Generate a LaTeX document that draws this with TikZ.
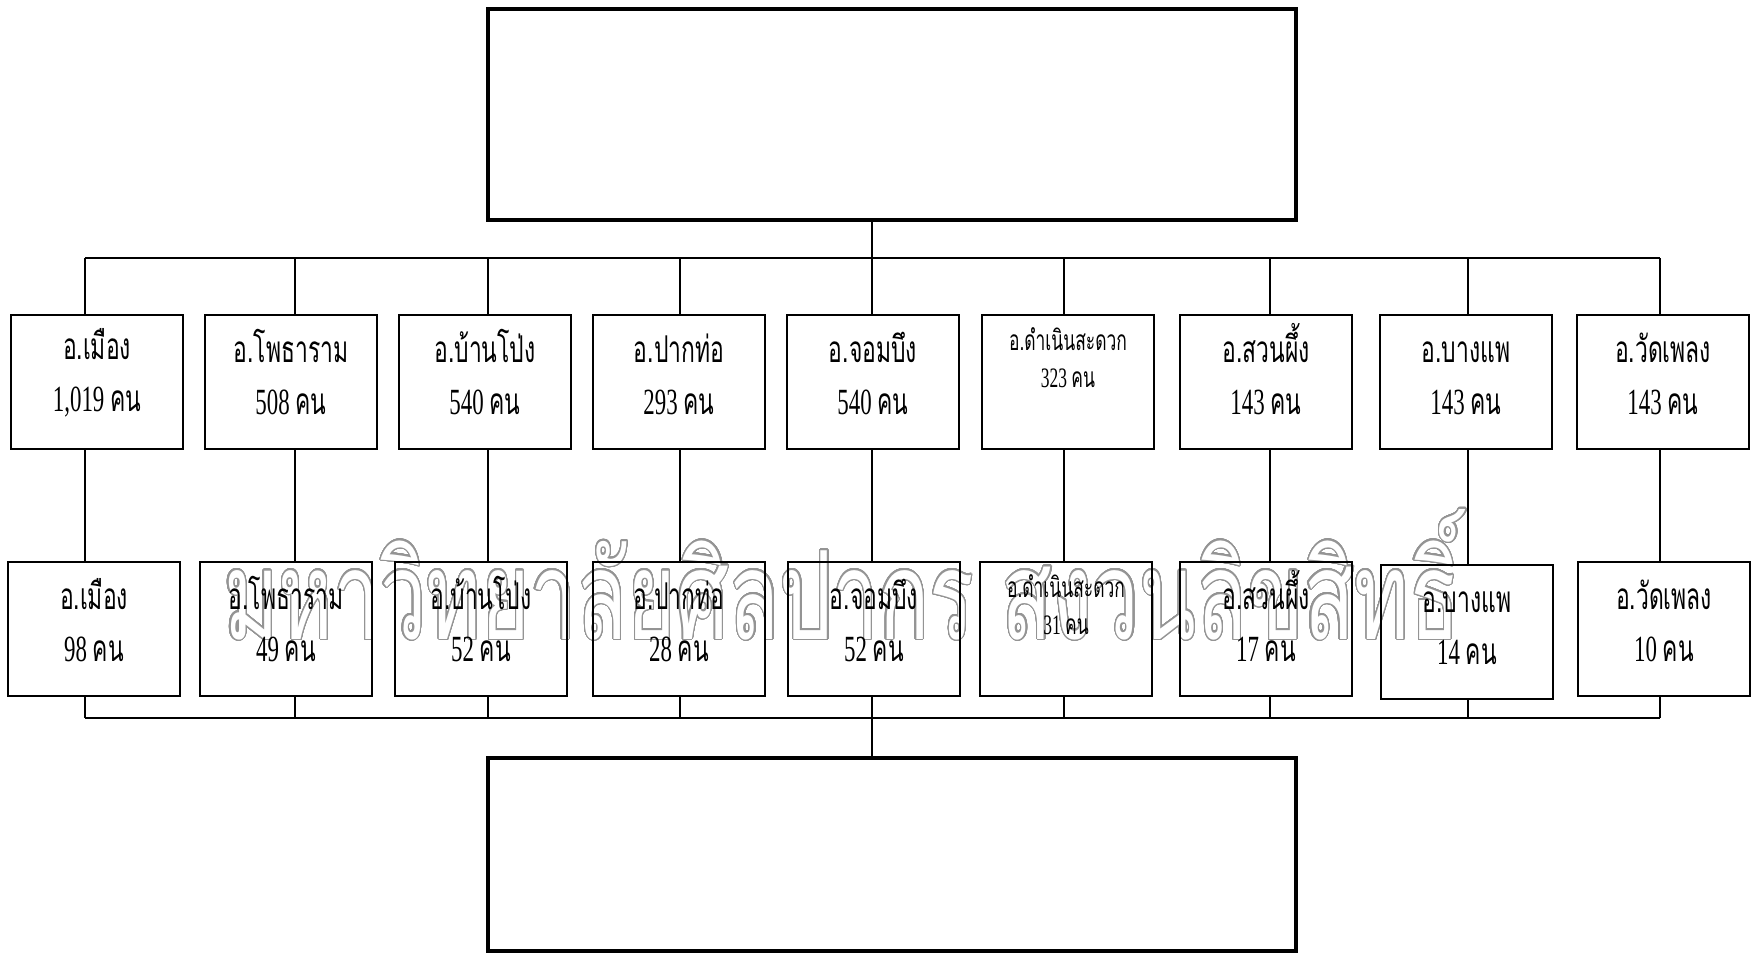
\documentclass[tikz,border=0pt]{standalone}
\usepackage{fontspec}
\setmainfont{Liberation Serif}[FakeStretch=0.62]
\newfontfamily\thaifont[Script=Thai, FakeStretch=0.62]{Loma}
\newfontfamily\markfont[Script=Thai]{Loma}
\usepackage{contour}
\usetikzlibrary{positioning,calc}
\contourlength{0.35pt}
\newcommand{\amphoe}[1]{{\thaifont\smash{อ.#1}}\strut}
\tikzset{%
    % boxes of the two rows
    unitbox/.style = {
        rectangle, draw=black, line width=0.7pt,
        minimum width=1.72cm, minimum height=1.34cm, inner sep=0pt
    },
    boxtext/.style = {inner sep=0pt, align=center, yshift=0.115cm, font=\fontsize{10.5}{14.8}\selectfont},
    smalltext/.style = {inner sep=0pt, align=center, font=\fontsize{8}{10.5}\selectfont},
    bigbox/.style = {rectangle, draw=black, line width=1.1pt, minimum width=8.08cm},
    link/.style = {line width=0.5pt}
}
\begin{document}
\begin{tikzpicture}[x=0.01cm, y=-0.01cm]
\useasboundingbox (0,0) rectangle (1753,954);
% watermark
\node[inner sep=0pt, anchor=base] (wm) at (842,639)
    {\color{white}\contour[48]{black!42}{\resizebox{12.35cm}{1.3cm}{\markfont มหาวิทยาลัยศิลปากร สงวนลิขสิทธิ์}}};

\node[bigbox, minimum height=2.11cm] (top) at (892,114.5) {};
\node[bigbox, minimum height=1.93cm] (bottom) at (892,854.5) {};

% first row
\foreach \i/\x/\name/\num in {1/97/เมือง/{1,019}, 2/291/โพธาราม/508, 3/485/บ้านโป่ง/540,
        4/679/ปากท่อ/293, 5/873/จอมบึง/540, 7/1266/สวนผึ้ง/143, 8/1466/บางแพ/143, 9/1663/วัดเพลง/143} {
    \node[unitbox] (m\i) at (\x,382) {};
    \node[boxtext] (m\i t) at (m\i) {\amphoe{\name}\\\num\ {\thaifont คน}};
}
\node[unitbox] (m6) at (1068,382) {};
\node[smalltext, below=0.13cm of m6.north] (m6t) {{\thaifont อ.ดำเนินสะดวก}\\323 {\thaifont คน}};

% second row
\foreach \i/\x/\y/\name/\num in {1/94/629/เมือง/98, 2/286/629/โพธาราม/49, 3/481/629/บ้านโป่ง/52,
        4/679/629/ปากท่อ/28, 5/874/629/จอมบึง/52, 7/1266/629/สวนผึ้ง/17, 8/1467/632/บางแพ/14, 9/1664/629/วัดเพลง/10} {
    \node[unitbox] (s\i) at (\x,\y) {};
    \node[boxtext] (s\i t) at (s\i) {\amphoe{\name}\\\num\ {\thaifont คน}};
}
\node[unitbox] (s6) at (1066,629) {};
\node[smalltext, below=0.13cm of s6.north] (s6t) {{\thaifont อ.ดำเนินสะดวก}\\31 {\thaifont คน}};

% connectors
\coordinate (tb) at (872,258);
\coordinate (bb) at (872,718);
\foreach \i/\cx in {1/85, 2/295, 3/488, 4/680, 5/872, 6/1064, 7/1270, 8/1468, 9/1660} {
    \coordinate (c\i) at (\cx,258);
    \coordinate (d\i) at (\cx,718);
    \draw[link] (c\i) -- (c\i |- m\i.north);
    \draw[link] (c\i |- m\i.south) -- (c\i |- s\i.north);
    \draw[link] (c\i |- s\i.south) -- (d\i);
}
\draw[link] (tb |- top.south) -- (tb);
\draw[link] (c1) -- (c9);
\draw[link] (d1) -- (d9);
\draw[link] (bb) -- (bb |- bottom.north);
\end{tikzpicture}
\end{document}
